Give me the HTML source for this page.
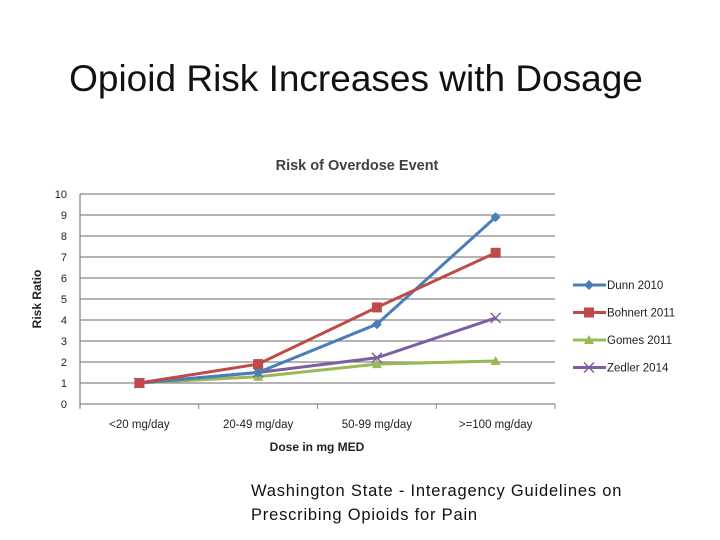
<!DOCTYPE html>
<html><head><meta charset="utf-8"><style>
body{margin:0;background:#fff;width:720px;height:540px;overflow:hidden;font-family:"Liberation Sans",sans-serif}
.t{position:absolute;left:0;width:712px;top:58px;text-align:center;font-size:37px;color:#111}
.f{position:absolute;left:251px;top:479px;font-size:16.5px;letter-spacing:0.8px;line-height:24px;color:#111}
</style></head><body>
<div class="t">Opioid Risk Increases with Dosage</div>
<svg id="c" width="720" height="540" style="position:absolute;left:0;top:0"></svg>
<div class="f">Washington State - Interagency Guidelines on<br>Prescribing Opioids for Pain</div>
<script>
const categories=["<20 mg/day","20-49 mg/day","50-99 mg/day",">=100 mg/day"];
const seriesNames=["Dunn 2010","Bohnert 2011","Gomes 2011","Zedler 2014"];
const dunn=[1,1.5,3.8,8.9];
const bohnert=[1,1.9,4.6,7.2];
const gomes=[1,1.3,1.9,2.05];
const zedler=[1,1.5,2.2,4.1];
const yTicks=[0,1,2,3,4,5,6,7,8,9,10];
const colors=["#4a7ebb","#be4b48","#98b954","#7d5fa0"];
const markers=["diamond","square","triangle","x"];
const svg=document.getElementById('c');const NS="http://www.w3.org/2000/svg";
const L=80,R=555,T=194,B=404;
const y=v=>B-(v/10)*(B-T);
const x=i=>L+(i+0.5)*(R-L)/categories.length;
function mk(tag,a,p){const e=document.createElementNS(NS,tag);for(const k in a)e.setAttribute(k,a[k]);(p||svg).appendChild(e);return e;}
let tt=mk('text',{x:357,y:170,'text-anchor':'middle','font-size':14.5,'font-weight':'bold',fill:'#404040'});tt.textContent="Risk of Overdose Event";


yTicks.forEach(v=>{let g=mk('line',{x1:L,x2:R,y1:y(v),y2:y(v),stroke:'#878787','stroke-width':1.3});


let t=mk('text',{x:67,y:y(v)+4,'text-anchor':'end','font-size':11,fill:'#222'});t.textContent=v;

});
mk('line',{x1:L,x2:L,y1:T,y2:B+4,stroke:'#878787','stroke-width':1.3});
categories.forEach((c,i)=>{mk('line',{x1:L+i*(R-L)/4,x2:L+i*(R-L)/4,y1:B,y2:B+5,stroke:'#878787'});
let t=mk('text',{x:x(i),y:428,'text-anchor':'middle','font-size':11.5,fill:'#222'});t.textContent=c;

});
mk('line',{x1:R,x2:R,y1:B,y2:B+5,stroke:'#878787'});
let xt=mk('text',{x:317,y:451,'text-anchor':'middle','font-size':12,'font-weight':'bold',fill:'#222'});xt.textContent="Dose in mg MED";


let yt=mk('text',{x:41,y:299,'text-anchor':'middle','font-size':12,'font-weight':'bold',fill:'#222',transform:'rotate(-90 41 299)'});yt.textContent="Risk Ratio";


function marker(type,cx,cy,col,s){
 if(type=="diamond")return mk('polygon',{points:`${cx},${cy-s} ${cx+s},${cy} ${cx},${cy+s} ${cx-s},${cy}`,fill:col});
 if(type=="square")return mk('rect',{x:cx-s,y:cy-s,width:2*s,height:2*s,fill:col});
 if(type=="triangle")return mk('polygon',{points:`${cx},${cy-s} ${cx+s},${cy+s*0.8} ${cx-s},${cy+s*0.8}`,fill:col});
 return mk('path',{d:`M${cx-s} ${cy-s}L${cx+s} ${cy+s}M${cx+s} ${cy-s}L${cx-s} ${cy+s}`,stroke:col,'stroke-width':1.5});
}
const all=[dunn,bohnert,gomes,zedler];
[2,3,0,1].forEach(k=>{const d=all[k];
 let p=mk('polyline',{points:d.map((v,i)=>x(i)+','+y(v)).join(' '),fill:'none',stroke:colors[k],'stroke-width':3});
 
 
 d.forEach((v,i)=>{let m=marker(markers[k],x(i),y(v),colors[k],5);
 
 });
});
seriesNames.forEach((n,k)=>{const ly=285+k*27.5;
 let l=mk('line',{x1:573,x2:606,y1:ly,y2:ly,stroke:colors[k],'stroke-width':3});
 
 
 marker(markers[k],589,ly,colors[k],5);
 let t=mk('text',{x:607,y:ly+4,'font-size':11.5,fill:'#222'});t.textContent=n;
 
 
});
</script>
</body></html>
